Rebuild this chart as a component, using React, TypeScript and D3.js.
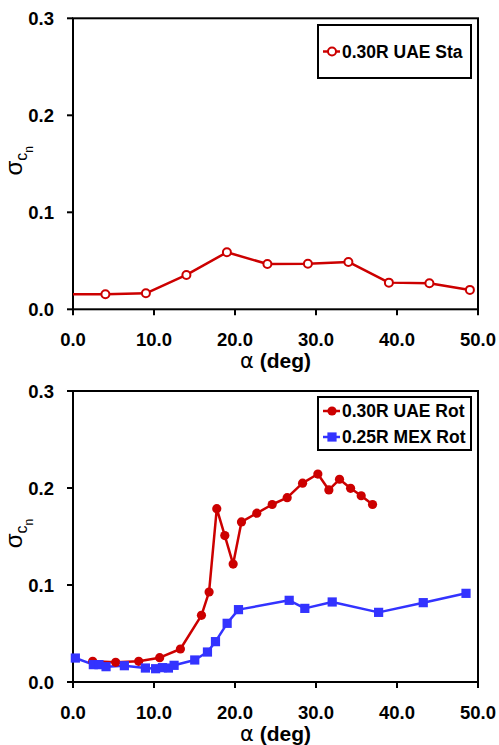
import React from "react";
import * as d3 from "d3";

const xTicks = [0, 10, 20, 30, 40, 50];
const yTicks = [0, 0.1, 0.2, 0.3];

const staAlpha = [-1, 4, 9, 14, 19, 24, 29, 34, 39, 44, 49];
const staSigma = [0.0155, 0.0155, 0.0165, 0.0354, 0.0588, 0.0467, 0.047, 0.0488, 0.0275, 0.0268, 0.02];

const uaeRotAlpha = [2.43, 5.27, 8.11, 10.7, 13.26, 15.86, 16.8, 17.75, 18.74, 19.77, 20.8, 22.69, 24.59, 26.44, 28.34, 30.23, 31.59, 32.9, 34.27, 35.58, 36.98];
const uaeRotSigma = [0.0213, 0.0203, 0.0213, 0.0251, 0.034, 0.0687, 0.0928, 0.1787, 0.151, 0.1216, 0.165, 0.174, 0.183, 0.19, 0.205, 0.2144, 0.198, 0.209, 0.1997, 0.192, 0.183];

const mexRotAlpha = [0.29, 2.51, 3.2, 4.08, 6.34, 8.94, 10.2, 11.04, 11.78, 12.48, 15.03, 16.6, 17.59, 19.03, 20.43, 26.69, 28.62, 32.0, 37.73, 43.24, 48.52];
const mexRotSigma = [0.0247, 0.0179, 0.0179, 0.0158, 0.0168, 0.0144, 0.0137, 0.0148, 0.0144, 0.0172, 0.0227, 0.0309, 0.0416, 0.0605, 0.0746, 0.0842, 0.0759, 0.0825, 0.0718, 0.0818, 0.0914];

const RED = "#CC0000";
const BLUE = "#3333FF";
const FONT = "Liberation Sans, Arial, sans-serif";

type Series = { name: string; alpha: number[]; sigma: number[]; color: string; marker: "openCircle" | "circle" | "square" };

const topSeries: Series[] = [
  { name: "0.30R UAE Sta", alpha: staAlpha, sigma: staSigma, color: RED, marker: "openCircle" },
];
const bottomSeries: Series[] = [
  { name: "0.30R UAE Rot", alpha: uaeRotAlpha, sigma: uaeRotSigma, color: RED, marker: "circle" },
  { name: "0.25R MEX Rot", alpha: mexRotAlpha, sigma: mexRotSigma, color: BLUE, marker: "square" },
];

function Marker({ kind, x, y, color }: { kind: string; x: number; y: number; color: string }) {
  if (kind === "openCircle") return <circle cx={x} cy={y} r={4} fill="white" stroke={color} strokeWidth={2} />;
  if (kind === "circle") return <circle cx={x} cy={y} r={4.6} fill={color} />;
  return <rect x={x - 4.6} y={y - 4.6} width={9.2} height={9.2} fill={color} />;
}

function Panel({ top, series, legendTop, legendH, id }: { top: number; series: Series[]; legendTop: number; legendH: number; id: string }) {
  const left = 73, right = 478;
  const bottom = top + 291;
  const x = d3.scaleLinear().domain([0, 50]).range([left, right]);
  const y = d3.scaleLinear().domain([0, 0.3]).range([bottom, top]);
  const fmt = d3.format(".1f");
  const line = d3.line<[number, number]>().x(d => x(d[0])).y(d => y(d[1]));
  const midY = (top + bottom) / 2;
  return (
    <g>
      <defs>
        <clipPath id={id}>
          <rect x={left} y={top} width={right - left} height={bottom - top} />
        </clipPath>
      </defs>
      <rect x={left} y={top} width={right - left} height={bottom - top} fill="none" stroke="black" strokeWidth={2} />
      {yTicks.map(t => (
        <g key={"y" + t}>
          <line x1={left - 6} x2={left} y1={y(t)} y2={y(t)} stroke="black" strokeWidth={2} />
          <text x={54} y={y(t) + 6.5} textAnchor="end" fontFamily={FONT} fontWeight="bold" fontSize={18.5}>{fmt(t)}</text>
        </g>
      ))}
      {xTicks.map(t => (
        <g key={"x" + t}>
          <line x1={x(t)} x2={x(t)} y1={bottom} y2={bottom + 6} stroke="black" strokeWidth={2} />
          <text x={x(t)} y={bottom + 37} textAnchor="middle" fontFamily={FONT} fontWeight="bold" fontSize={18.5}>{fmt(t)}</text>
        </g>
      ))}
      <text x={(left + right) / 2} y={bottom + 59} textAnchor="middle" fontFamily={FONT} fontSize={21}>
        <tspan fontWeight="normal" fontFamily="DejaVu Sans, sans-serif">α</tspan>
        <tspan fontWeight="bold"> (deg)</tspan>
      </text>
      <text transform={`translate(22,${midY - 3}) rotate(-90)`} textAnchor="middle" fontFamily={FONT} fontSize={24}>
        <tspan>σ</tspan>
        <tspan fontSize={16} dy={5}>c</tspan>
        <tspan fontSize={12} dy={6}>n</tspan>
      </text>
      <g clipPath={`url(#${id})`}>
        {series.map(s => (
          <path key={s.name} d={line(s.alpha.map((a, i) => [a, s.sigma[i]] as [number, number])) || ""} fill="none" stroke={s.color} strokeWidth={2.5} strokeLinejoin="round" />
        ))}
      </g>
      {series.map(s => (
        <g key={s.name + "m"}>
          {s.alpha.map((a, i) => (a >= 0 ? <Marker key={i} kind={s.marker} x={x(a)} y={y(s.sigma[i])} color={s.color} /> : null))}
        </g>
      ))}
      <rect x={318} y={legendTop} width={153} height={legendH} fill="white" stroke="black" strokeWidth={2} />
      {series.map((s, i) => {
        const cy = series.length === 1 ? legendTop + legendH / 2 : legendTop + 14 + i * 26;
        return (
          <g key={s.name + "l"}>
            <line x1={323} x2={340} y1={cy} y2={cy} stroke={s.color} strokeWidth={2.5} />
            <Marker kind={s.marker} x={332} y={cy} color={s.color} />
            <text x={342} y={cy + 6.3} fontFamily={FONT} fontWeight="bold" fontSize={17.5}>{s.name}</text>
          </g>
        );
      })}
    </g>
  );
}

export default function App() {
  return (
    <svg width={499} height={745} style={{ position: "absolute", left: 0, top: 0 }}>
      <rect width={499} height={745} fill="white" />
      <Panel top={18.3} series={topSeries} legendTop={25} legendH={53} id="clipTop" />
      <Panel top={391} series={bottomSeries} legendTop={397} legendH={53} id="clipBottom" />
    </svg>
  );
}
